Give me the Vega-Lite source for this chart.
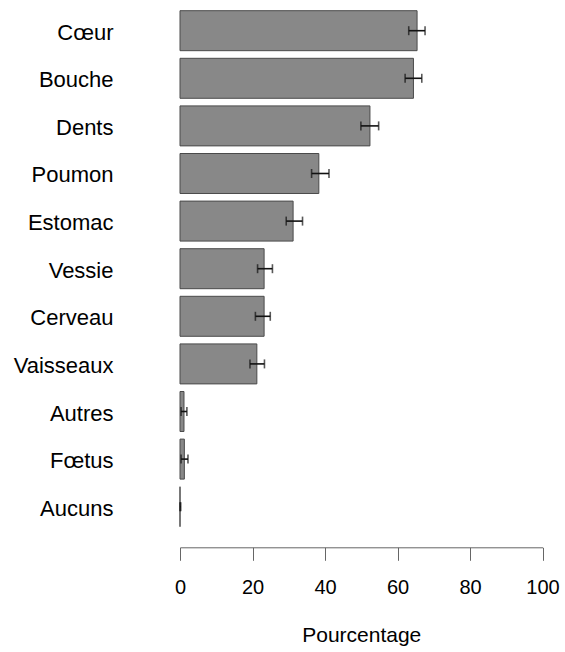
{
  "$schema": "https://vega.github.io/schema/vega-lite/v6.json",
  "width": 362.5,
  "height": 516,
  "autosize": {"type": "none"},
  "padding": {"left": 180, "top": 10.7, "right": 22.5, "bottom": 125.3},
  "background": "white",
  "config": {
    "view": {"stroke": null},
    "font": "Liberation Sans"
  },
  "data": {
    "values": [
      {"organe": "Cœur", "pct": 65.4, "bas": 63.1, "haut": 67.6},
      {"organe": "Bouche", "pct": 64.4, "bas": 62.1, "haut": 66.7},
      {"organe": "Dents", "pct": 52.4, "bas": 49.9, "haut": 54.8},
      {"organe": "Poumon", "pct": 38.3, "bas": 36.3, "haut": 41.1},
      {"organe": "Estomac", "pct": 31.2, "bas": 29.3, "haut": 33.8},
      {"organe": "Vessie", "pct": 23.2, "bas": 21.4, "haut": 25.5},
      {"organe": "Cerveau", "pct": 23.2, "bas": 20.8, "haut": 24.9},
      {"organe": "Vaisseaux", "pct": 21.2, "bas": 19.3, "haut": 23.3},
      {"organe": "Autres", "pct": 1.1, "bas": 0.3, "haut": 1.9},
      {"organe": "Fœtus", "pct": 1.2, "bas": 0.3, "haut": 2.2},
      {"organe": "Aucuns", "pct": 0, "bas": 0, "haut": 0.2}
    ]
  },
  "encoding": {
    "y": {
      "field": "organe",
      "type": "nominal",
      "sort": null,
      "scale": {"paddingInner": 0.16, "paddingOuter": 0},
      "axis": {
        "title": null,
        "domain": false,
        "ticks": false,
        "labelFont": "Liberation Sans",
        "labelFontSize": 22,
        "labelColor": "black",
        "labelAlign": "right",
        "labelBaseline": "middle",
        "labelPadding": 67,
        "labelOffset": 2
      }
    }
  },
  "layer": [
    {
      "mark": {"type": "bar", "fill": "#888888", "stroke": "#4a4a4a", "strokeWidth": 1},
      "encoding": {
        "x": {
          "field": "pct",
          "type": "quantitative",
          "scale": {"domain": [0, 100], "nice": false},
          "axis": {
            "title": "Pourcentage",
            "values": [0, 20, 40, 60, 80, 100],
            "grid": false,
            "offset": 20.6,
            "domainColor": "#666666",
            "tickColor": "#666666",
            "tickSize": 13,
            "labelFont": "Liberation Sans",
            "labelFontSize": 20,
            "labelColor": "black",
            "labelPadding": 17,
            "labelFlush": false,
            "titleFont": "Liberation Sans",
            "titleFontSize": 21,
            "titleFontWeight": "normal",
            "titleColor": "black",
            "titlePadding": 27
          }
        }
      }
    },
    {
      "mark": {"type": "rule", "color": "#111111", "strokeWidth": 1.6},
      "encoding": {
        "x": {"field": "bas", "type": "quantitative"},
        "x2": {"field": "haut"}
      }
    },
    {
      "mark": {"type": "tick", "color": "#111111", "thickness": 1.6, "size": 9},
      "encoding": {
        "x": {"field": "bas", "type": "quantitative"}
      }
    },
    {
      "mark": {"type": "tick", "color": "#111111", "thickness": 1.6, "size": 9},
      "encoding": {
        "x": {"field": "haut", "type": "quantitative"}
      }
    }
  ]
}
